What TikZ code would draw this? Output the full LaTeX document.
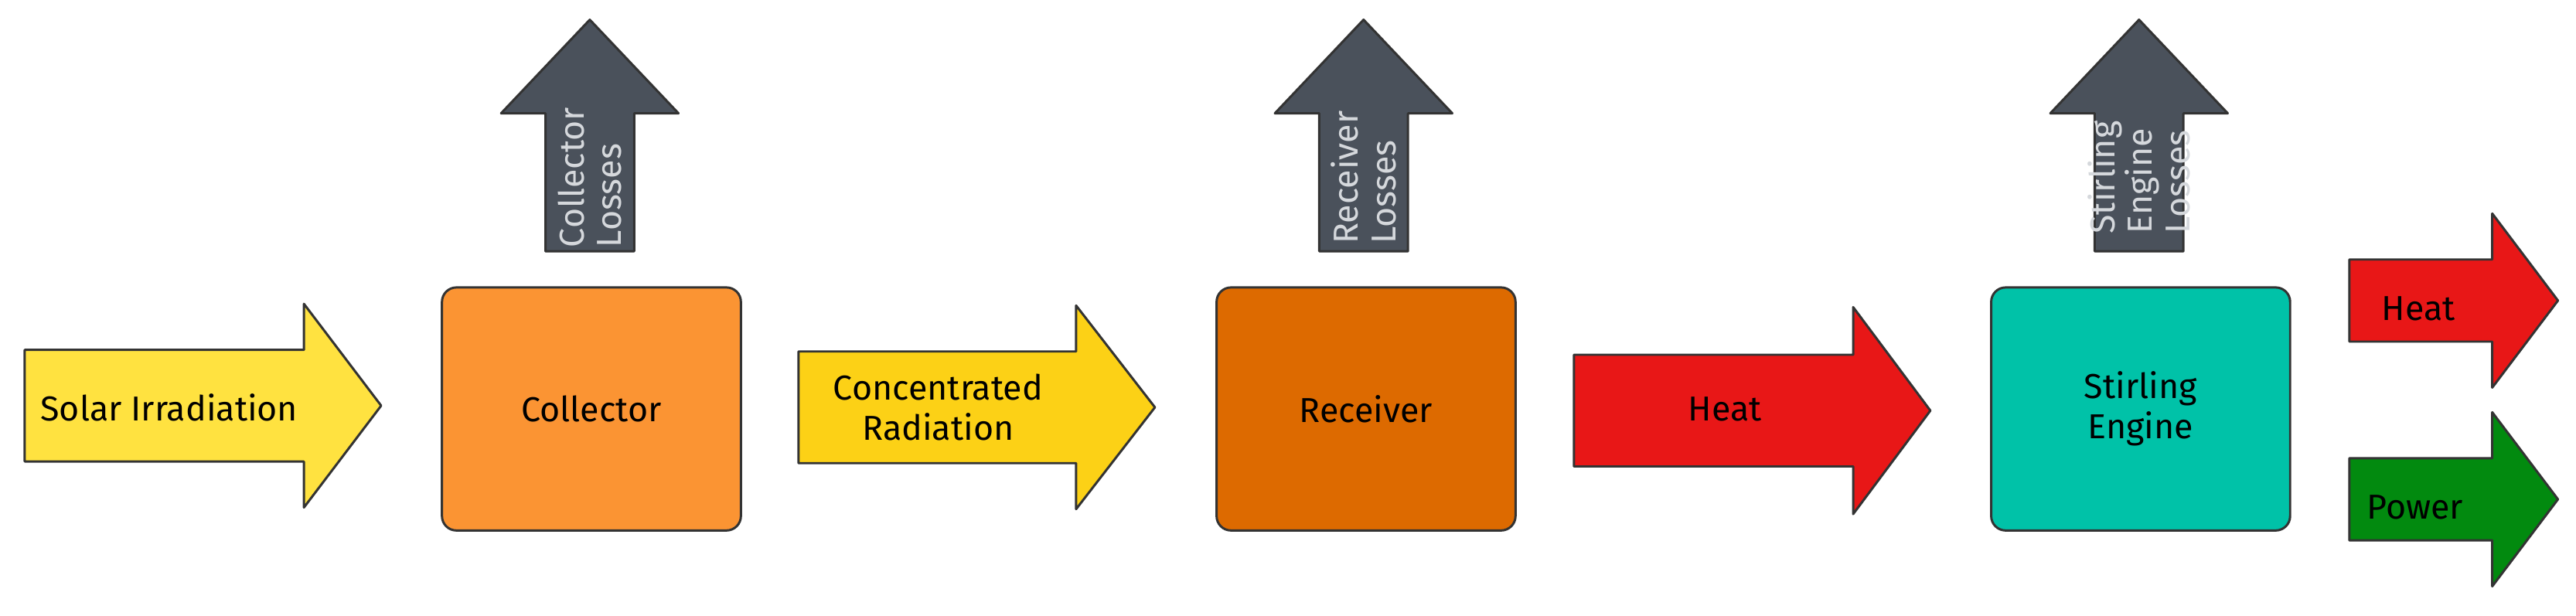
\documentclass[tikz,border=0pt]{standalone}
\usepackage{fontspec}
\setmainfont{Fira Sans}
\usetikzlibrary{positioning,calc}
\definecolor{sunyellow}{HTML}{FFE240}
\definecolor{goldyellow}{HTML}{FCD116}
\definecolor{collorange}{HTML}{FB9433}
\definecolor{recvorange}{HTML}{DD6A00}
\definecolor{heatred}{HTML}{E81717}
\definecolor{powergreen}{HTML}{028A0F}
\definecolor{stirteal}{HTML}{00C2A8}
\definecolor{lossgray}{HTML}{4A515B}
\definecolor{losstext}{HTML}{D5D8DC}

% right arrow: x start, x head, x tip, y centre, half body, half head, colour
\newcommand{\rarrow}[7]{%
  \draw[fill=#7, draw=black!80, thick, line join=round]
    (#1,#4-#5) -- (#2,#4-#5) -- (#2,#4-#6) -- (#3,#4) -- (#2,#4+#6)
    -- (#2,#4+#5) -- (#1,#4+#5) -- cycle;}
% up arrow: x centre, y bottom, y head, y tip, half body, half head
\newcommand{\uarrow}[6]{%
  \draw[fill=lossgray, draw=black!80, thick, line join=round]
    (#1-#5,#2) -- (#1-#5,#3) -- (#1-#6,#3) -- (#1,#4) -- (#1+#6,#3)
    -- (#1+#5,#3) -- (#1+#5,#2) -- cycle;}

\begin{document}
\begin{tikzpicture}[x=0.02cm, y=-0.02cm,
    box/.style={draw=black!80, thick, rounded corners=5pt, minimum width=3.64cm,
      minimum height=2.96cm, font=\fontsize{12}{14}\selectfont, align=center},
    label/.style={font=\fontsize{12}{14}\selectfont, align=center},
    loss/.style={font=\fontsize{12}{13}\selectfont, text=losstext, rotate=90, align=left}]
    \useasboundingbox (0,0) rectangle (1568,375);

    % Blocks
    \node[box, fill=collorange] (collector) at (360,249) {Collector};
    \node[box, fill=recvorange] (receiver) at (831.5,249) {Receiver};
    \node[box, fill=stirteal] (stirling) at (1303,249) {Stirling\\Engine};

    % Flow arrows
    \rarrow{15}{185}{232}{247}{34}{62}{sunyellow}
    \node[label] (solar) at (103,248) {Solar Irradiation};
    \rarrow{486}{655}{703}{248}{34}{62}{goldyellow}
    \node[label] (concentrated) at (571,248) {Concentrated\\Radiation};
    \rarrow{958}{1128}{1175}{250}{34}{63}{heatred}
    \node[label] (heatin) at (1050,249) {Heat};
    \rarrow{1430}{1517}{1557}{183}{25}{53}{heatred}
    \node[label] (heatout) at (1472,188) {Heat};
    \rarrow{1430}{1517}{1557}{304}{25}{53}{powergreen}
    \node[label] (power) at (1470,309) {Power};

    % Loss arrows
    \uarrow{359}{153}{69}{12}{27}{54}
    \node[loss] (colloss) at (359,108) {Collector\\Losses};
    \uarrow{830}{153}{69}{12}{27}{54}
    \node[loss] (recloss) at (830,108) {Receiver\\Losses};
    \uarrow{1302}{153}{69}{12}{27}{54}
    \node[loss] (stirloss) at (1302,108) {Stirling\\Engine\\Losses};
\end{tikzpicture}
\end{document}
